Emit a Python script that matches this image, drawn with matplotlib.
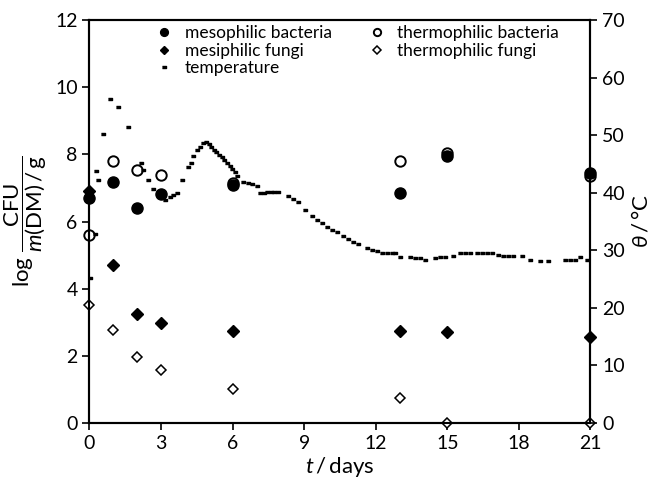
import matplotlib
matplotlib.use("Agg")
import matplotlib.pyplot as plt

plt.rcParams['font.family'] = ['Lato', 'DejaVu Sans']
plt.rcParams['mathtext.fontset'] = 'custom'
plt.rcParams['mathtext.rm'] = 'Lato'
plt.rcParams['mathtext.it'] = 'Lato:italic'
plt.rcParams['mathtext.fallback'] = 'stixsans'

# ---- data ----
days = [0, 1, 2, 3, 6, 13, 15, 21]
meso_bact = [6.7, 7.17, 6.4, 6.82, 7.08, 6.85, 7.95, 7.45]
thermo_bact = [5.6, 7.8, 7.53, 7.38, 7.15, 7.8, 8.05, 7.35]
meso_fungi = [6.9, 4.7, 3.24, 2.97, 2.74, 2.75, 2.7, 2.57]
thermo_fungi = [3.5, 2.77, 1.96, 1.57, 1.0, 0.75, 0.0, 0.0]

temp_days = [0.02, 0.23, 0.27, 0.34, 0.57, 0.86, 1.19, 1.61, 2.16, 2.24, 2.45, 2.66,
             3.16, 3.37, 3.5, 3.67, 3.88, 4.13, 4.25, 4.34, 4.51, 4.63, 4.76, 4.88,
             4.99, 5.1, 5.21, 5.32, 5.43, 5.54, 5.65, 5.76, 5.87, 5.98, 6.09, 6.18,
             6.43, 6.64, 6.81, 7.02, 7.15, 7.3, 7.45, 7.6, 7.75, 7.9,
             8.33, 8.54, 8.75, 9.03, 9.31, 9.52, 9.73, 9.94, 10.15, 10.36, 10.64,
             10.85, 11.06, 11.27, 11.62, 11.83, 12.04, 12.25, 12.46, 12.67, 12.81,
             13.01, 13.43, 13.64, 13.85, 14.06, 14.48, 14.69, 14.9, 15.25, 15.53,
             15.74, 15.95, 16.23, 16.44, 16.65, 16.86, 17.14, 17.35, 17.56, 17.77,
             18.12, 18.47, 18.89, 19.24, 19.94, 20.15, 20.36, 20.58, 20.86]
temp_vals = [25.2, 32.8, 43.8, 42.2, 50.2, 56.2, 54.9, 51.4, 45.2, 44.0, 42.2, 40.6,
             38.7, 39.3, 39.6, 40.0, 42.2, 44.5, 45.2, 46.4, 47.4, 47.9, 48.6, 48.8,
             48.4, 48.0, 47.5, 47.1, 46.6, 46.2, 45.7, 45.2, 44.7, 44.2, 43.6, 42.9,
             41.9, 41.7, 41.5, 41.2, 40.0, 40.0, 40.1, 40.1, 40.2, 40.1,
             39.5, 38.9, 38.4, 37.0, 36.0, 35.3, 34.7, 34.1, 33.6, 33.1, 32.4,
             31.9, 31.5, 31.1, 30.4, 30.0, 29.8, 29.6, 29.6, 29.6, 29.5,
             28.8, 28.8, 28.7, 28.6, 28.4, 28.7, 28.8, 28.8, 29.0, 29.5,
             29.5, 29.5, 29.5, 29.5, 29.5, 29.5, 29.2, 29.0, 29.0, 29.0,
             29.0, 28.4, 28.2, 28.2, 28.4, 28.4, 28.4, 28.8, 28.4]

x_ticks = [0, 3, 6, 9, 12, 15, 18, 21]
left_ticks = [0, 2, 4, 6, 8, 10, 12]
right_ticks = [0, 10, 20, 30, 40, 50, 60, 70]

fig = plt.figure(figsize=(6.55, 4.82), dpi=100)
ax = fig.add_axes([0.1366, 0.1224, 0.7649, 0.8361])
ax2 = ax.twinx()

dash = [(-1, -0.5), (1, -0.5), (1, 0.5), (-1, 0.5)]

h_mb, = ax.plot(days, meso_bact, 'o', color='black', ms=8, ls='none', clip_on=False, zorder=5,
                label='mesophilic bacteria')
h_tb, = ax.plot(days, thermo_bact, 'o', mfc='none', mec='black', mew=1.4, ms=7.5, ls='none',
                clip_on=False, zorder=5, label='thermophilic bacteria')
h_mf, = ax.plot(days, meso_fungi, 'D', color='black', ms=6, ls='none', clip_on=False, zorder=5,
                label='mesiphilic fungi')
h_tf, = ax.plot(days, thermo_fungi, 'D', mfc='white', mec='black', mew=1.1, ms=5.5, ls='none',
                clip_on=False, zorder=5, label='thermophilic fungi')
h_t, = ax2.plot(temp_days, temp_vals, marker=dash, color='black', ms=3.3, ls='none',
                clip_on=False, label='temperature')

ax.set_xlim(0, 21)
ax.set_ylim(0, 12)
ax2.set_ylim(0, 70)
ax.set_xticks(x_ticks)
ax.set_yticks(left_ticks)
ax2.set_yticks(right_ticks)

for a in (ax, ax2):
    a.tick_params(direction='out', length=5, width=1.2, labelsize=14, color='black')
    for s in a.spines.values():
        s.set_linewidth(1.5)

ax.set_xlabel(r'$t\,/\,$days', fontsize=16, labelpad=2)
ax.set_ylabel(r'$\log\,\dfrac{\mathrm{CFU}}{m(\mathrm{DM})\,/\,\mathrm{g}}$', fontsize=16, labelpad=4)
ax2.set_ylabel(r'$\theta\,/\,$°C', fontsize=16, labelpad=4)

ax2.legend(handles=[h_mb, h_mf, h_t, h_tb, h_tf], ncol=2, loc='upper left',
           bbox_to_anchor=(0.11, 1.018), frameon=False, fontsize=12.5, markerscale=0.7,
           handlelength=0.8, handletextpad=0.8, columnspacing=2.2, labelspacing=0.1,
           borderpad=0.2)

fig.savefig('out.png', dpi=100)
